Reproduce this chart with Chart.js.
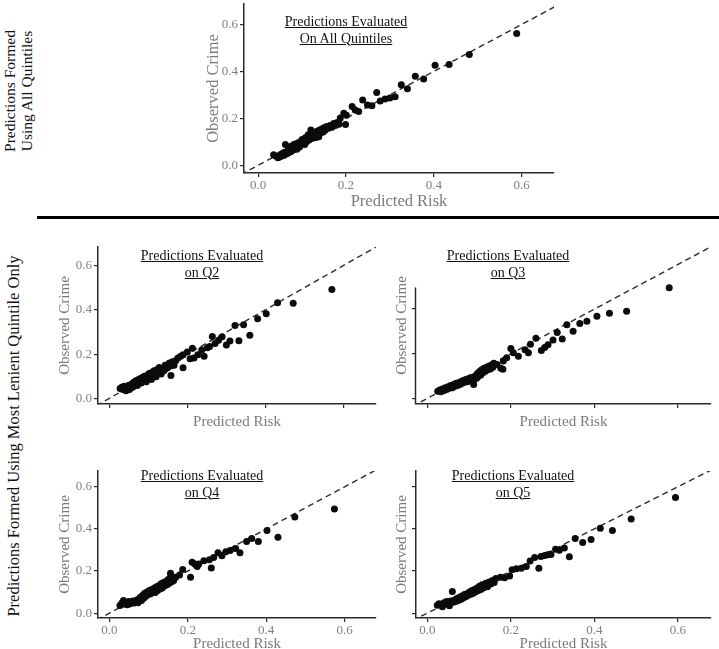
<!DOCTYPE html>
<html>
<head>
<meta charset="utf-8">
<script src="https://cdn.jsdelivr.net/npm/chart.js@4.4.1/dist/chart.umd.min.js"></script>
<style>
  html, body { margin: 0; padding: 0; background: #fff; overflow: hidden; width: 719px; height: 649px; }
  body { position: relative; font-family: "Liberation Serif", serif; }
  canvas { position: absolute; }
  .ptitle { position: absolute; transform: translateX(-50%); text-align: center; font-size: 14px; line-height: 16.5px; color: #111; text-decoration: underline; white-space: nowrap; }
  .side { position: absolute; transform: translate(-50%, -50%) rotate(-90deg); text-align: center; color: #111; white-space: nowrap; }
  .rule { position: absolute; left: 37px; right: 0; top: 216px; height: 2.5px; background: #000; }
</style>
</head>
<body>
<div class="side" style="left:18px;top:91px;font-size:15.5px;line-height:17px">Predictions Formed<br>Using All Quintiles</div>
<div class="side" style="left:13px;top:436px;font-size:16.5px;line-height:17px">Predictions Formed Using Most Lenient Quintile Only</div>
<div class="rule"></div>

<script>
// predicted risk vs observed crime, one array of [x, y] per panel
const allQuintiles = [
  [0.035,0.045],[0.040,0.040],[0.045,0.032],[0.048,0.035],[0.050,0.045],[0.052,0.038],[0.055,0.050],[0.058,0.042],
  [0.060,0.055],[0.062,0.088],[0.064,0.048],[0.066,0.060],[0.068,0.052],[0.070,0.075],[0.072,0.062],[0.074,0.058],
  [0.076,0.082],[0.078,0.070],[0.080,0.065],[0.082,0.090],[0.084,0.075],[0.086,0.080],[0.088,0.068],[0.090,0.095],
  [0.092,0.085],[0.094,0.078],[0.096,0.100],[0.098,0.090],[0.100,0.110],[0.102,0.095],[0.104,0.105],[0.106,0.088],
  [0.108,0.118],[0.110,0.100],[0.112,0.112],[0.114,0.130],[0.116,0.108],[0.118,0.120],[0.120,0.150],[0.122,0.128],
  [0.124,0.115],[0.126,0.140],[0.128,0.125],[0.130,0.135],[0.132,0.118],[0.134,0.145],[0.136,0.130],[0.138,0.122],
  [0.140,0.150],[0.142,0.138],[0.145,0.155],[0.148,0.142],[0.150,0.160],[0.153,0.150],[0.156,0.165],[0.160,0.158],
  [0.164,0.170],[0.168,0.162],[0.172,0.178],[0.176,0.170],[0.180,0.182],[0.184,0.175],
  [0.183,0.180],[0.187,0.201],[0.195,0.222],[0.199,0.174],[0.201,0.213],[0.214,0.250],[0.221,0.236],[0.229,0.229],
  [0.238,0.278],[0.249,0.257],[0.259,0.254],[0.270,0.310],[0.278,0.274],[0.289,0.282],[0.300,0.287],[0.312,0.292],
  [0.326,0.343],[0.340,0.326],[0.358,0.379],[0.377,0.368],[0.403,0.426],[0.435,0.430],[0.481,0.472],[0.589,0.562]
];

const evalQ2 = [
  [0.028,0.045],[0.032,0.050],[0.035,0.040],[0.038,0.055],[0.040,0.048],[0.043,0.035],[0.046,0.052],[0.048,0.045],
  [0.050,0.060],[0.052,0.040],[0.055,0.055],[0.058,0.065],[0.060,0.050],[0.062,0.072],[0.065,0.060],[0.068,0.080],
  [0.070,0.068],[0.072,0.058],[0.075,0.085],[0.078,0.075],[0.080,0.090],[0.082,0.070],[0.085,0.095],[0.088,0.082],
  [0.090,0.100],[0.092,0.088],[0.095,0.075],[0.098,0.105],[0.100,0.092],[0.102,0.112],[0.105,0.098],[0.108,0.085],
  [0.110,0.118],[0.112,0.105],[0.115,0.125],[0.118,0.110],[0.120,0.098],[0.122,0.130],[0.125,0.115],[0.128,0.140],
  [0.130,0.122],[0.133,0.110],[0.136,0.135],[0.140,0.125],[0.143,0.150],[0.146,0.135],[0.150,0.140],[0.154,0.160],
  [0.158,0.148],[0.162,0.165],[0.166,0.150],[0.170,0.170],
  [0.158,0.104],[0.176,0.182],[0.183,0.190],[0.189,0.197],[0.189,0.138],[0.200,0.209],[0.207,0.179],[0.213,0.226],
  [0.217,0.182],[0.227,0.197],[0.237,0.219],[0.243,0.190],[0.251,0.229],[0.257,0.234],[0.264,0.279],[0.271,0.248],
  [0.280,0.263],[0.289,0.278],[0.300,0.241],[0.309,0.259],[0.322,0.329],[0.332,0.260],[0.344,0.332],[0.360,0.285],
  [0.380,0.360],[0.402,0.382],[0.431,0.432],[0.471,0.429],[0.570,0.491]
];

const evalQ3 = [
  [0.025,0.032],[0.030,0.038],[0.033,0.030],[0.036,0.042],[0.040,0.035],[0.043,0.048],[0.046,0.040],[0.050,0.052],
  [0.053,0.045],[0.056,0.058],[0.060,0.048],[0.063,0.062],[0.066,0.055],[0.069,0.068],[0.072,0.058],[0.075,0.070],
  [0.078,0.062],[0.080,0.075],[0.083,0.068],[0.086,0.080],[0.089,0.072],[0.092,0.085],[0.095,0.075],[0.098,0.088],
  [0.100,0.078],[0.103,0.092],[0.106,0.082],[0.109,0.095],[0.112,0.085],[0.115,0.100],[0.118,0.090],[0.120,0.112],
  [0.122,0.098],[0.125,0.120],[0.128,0.105],[0.130,0.128],[0.133,0.115],[0.136,0.135],[0.139,0.122],[0.142,0.140],
  [0.145,0.128],[0.148,0.145],[0.151,0.132],[0.154,0.150],[0.157,0.140],[0.160,0.155],
  [0.111,0.062],[0.159,0.158],[0.167,0.152],[0.176,0.135],[0.181,0.131],[0.182,0.167],[0.190,0.182],[0.200,0.223],
  [0.206,0.204],[0.218,0.189],[0.234,0.218],[0.242,0.204],[0.247,0.243],[0.260,0.269],[0.273,0.214],[0.281,0.228],
  [0.289,0.240],[0.301,0.262],[0.311,0.295],[0.323,0.266],[0.334,0.330],[0.349,0.301],[0.365,0.336],[0.382,0.345],
  [0.406,0.368],[0.436,0.381],[0.477,0.390],[0.579,0.495]
];

const evalQ4 = [
  [0.027,0.036],[0.032,0.048],[0.036,0.060],[0.040,0.042],[0.043,0.052],[0.046,0.040],[0.050,0.055],[0.053,0.045],
  [0.056,0.050],[0.060,0.058],[0.063,0.048],[0.066,0.055],[0.070,0.062],[0.073,0.050],[0.076,0.068],[0.079,0.075],
  [0.082,0.060],[0.085,0.085],[0.088,0.072],[0.090,0.095],[0.093,0.080],[0.096,0.100],[0.099,0.088],[0.102,0.108],
  [0.105,0.092],[0.108,0.112],[0.111,0.100],[0.114,0.118],[0.117,0.098],[0.120,0.125],[0.123,0.108],[0.126,0.130],
  [0.129,0.115],[0.132,0.140],[0.135,0.120],[0.138,0.145],[0.141,0.130],[0.144,0.150],[0.147,0.135],[0.150,0.160],
  [0.153,0.142],[0.157,0.180],[0.160,0.150],[0.164,0.155],
  [0.156,0.189],[0.169,0.171],[0.179,0.181],[0.187,0.207],[0.207,0.171],[0.211,0.242],[0.218,0.234],[0.224,0.222],
  [0.228,0.234],[0.241,0.249],[0.255,0.253],[0.260,0.215],[0.266,0.264],[0.277,0.287],[0.287,0.272],[0.297,0.292],
  [0.308,0.298],[0.322,0.307],[0.333,0.287],[0.350,0.340],[0.363,0.355],[0.380,0.340],[0.402,0.393],[0.430,0.360],
  [0.473,0.457],[0.574,0.494]
];

const evalQ5 = [
  [0.024,0.037],[0.028,0.045],[0.032,0.040],[0.036,0.030],[0.040,0.050],[0.043,0.042],[0.046,0.055],[0.050,0.048],
  [0.053,0.035],[0.056,0.058],[0.060,0.103],[0.062,0.052],[0.065,0.062],[0.068,0.055],[0.071,0.070],[0.074,0.060],
  [0.077,0.075],[0.080,0.065],[0.083,0.082],[0.086,0.072],[0.089,0.088],[0.092,0.078],[0.095,0.092],[0.098,0.085],
  [0.101,0.100],[0.104,0.090],[0.107,0.108],[0.110,0.095],[0.113,0.112],[0.116,0.102],[0.119,0.120],[0.122,0.108],
  [0.125,0.128],[0.128,0.112],[0.131,0.135],[0.134,0.120],[0.137,0.130],[0.140,0.142],[0.144,0.125],[0.148,0.148],
  [0.152,0.138],[0.156,0.155],[0.160,0.145],
  [0.164,0.165],[0.175,0.171],[0.185,0.168],[0.197,0.176],[0.203,0.206],[0.213,0.211],[0.225,0.213],[0.237,0.221],
  [0.246,0.248],[0.257,0.264],[0.267,0.213],[0.272,0.269],[0.281,0.274],[0.288,0.277],[0.296,0.279],[0.307,0.303],
  [0.316,0.299],[0.328,0.309],[0.340,0.268],[0.354,0.354],[0.372,0.336],[0.392,0.350],[0.414,0.403],[0.443,0.393],
  [0.488,0.447],[0.594,0.549]
];

const tickValues = [0, 0.2, 0.4, 0.6];
const diagonal = [-0.1, 0.8]; // y = x reference line
const xLabel = "Predicted Risk";
const yLabel = "Observed Crime";

const FONT = "'Liberation Serif', serif";
const axisColor = "#2a2a2a";
const labelGrey = "#808080";

// L/T/R/B = plot area in page pixels
const panels = [
  { title: ["Predictions Evaluated", "On All Quintiles"], data: allQuintiles, L: 244, T: 0, R: 556, B: 173,
    x: [-0.0324, 0.674], y: [-0.033, 0.6875], showX: true, showY: true, big: true,
    yPad: 3.4, xPad: 1.4, tx: 346, ty: 14 },
  { title: ["Predictions Evaluated", "on Q2"], data: evalQ2, L: 98, T: 243, R: 378, B: 404,
    x: [-0.0287, 0.683], y: [-0.025, 0.683], showX: false, showY: true,
    yPad: 2.4, xPad: 13.4, tx: 202, ty: 248 },
  { title: ["Predictions Evaluated", "on Q3"], data: evalQ3, L: 416, T: 243, R: 713, B: 404,
    x: [-0.027, 0.679], y: [-0.025, 0.678], showX: false, showY: false, yTop: 0.497,
    yPad: 20.9, xPad: 13.4, tx: 508, ty: 248 },
  { title: ["Predictions Evaluated", "on Q4"], data: evalQ4, L: 98, T: 467, R: 378, B: 618,
    x: [-0.029, 0.68], y: [-0.023, 0.675], showX: true, showY: true,
    yPad: 2.4, xPad: 5.1, tx: 202, ty: 468 },
  { title: ["Predictions Evaluated", "on Q5"], data: evalQ5, L: 416, T: 467, R: 713, B: 618,
    x: [-0.027, 0.679], y: [-0.023, 0.675], showX: true, showY: false,
    yPad: 20.9, xPad: 5.1, tx: 513, ty: 468 }
];

// draws the y axis line only up to a given value (Q3 panel)
const partialAxis = {
  id: "partialAxis",
  afterDraw(chart, args, opts) {
    if (opts.top == null) return;
    const { ctx, chartArea, scales } = chart;
    const yTop = scales.y.getPixelForValue(opts.top);
    ctx.save();
    ctx.strokeStyle = axisColor;
    ctx.lineWidth = 1.5;
    ctx.beginPath();
    ctx.moveTo(chartArea.left - 0.5, yTop);
    ctx.lineTo(chartArea.left - 0.5, chartArea.bottom);
    ctx.stroke();
    ctx.restore();
  }
};

const Y_W = 44, X_H = 40, PAD_R = 2;

panels.forEach((p) => {
  const canvas = document.createElement("canvas");
  const left = p.L - Y_W;
  const w = p.R - left + PAD_R;
  const h = p.B + X_H - p.T;
  canvas.width = w;
  canvas.height = h;
  canvas.style.left = left + "px";
  canvas.style.top = p.T + "px";
  canvas.style.width = w + "px";
  canvas.style.height = h + "px";
  document.body.appendChild(canvas);

  const t = document.createElement("div");
  t.className = "ptitle";
  t.style.left = p.tx + "px";
  t.style.top = p.ty + "px";
  t.innerHTML = p.title.join("<br>");
  document.body.appendChild(t);

  const titleSize = p.big ? 16.5 : 15;

  new Chart(canvas.getContext("2d"), {
    type: "scatter",
    data: {
      datasets: [
        {
          type: "line",
          data: diagonal.map((v) => ({ x: v, y: v })),
          borderColor: "#2b2b2b",
          borderWidth: 1.4,
          borderDash: [6, 4],
          pointRadius: 0,
          fill: false,
          tension: 0,
          order: 2,
        },
        {
          data: p.data.map(([x, y]) => ({ x, y })),
          backgroundColor: "#0b0b0b",
          borderColor: "#0b0b0b",
          borderWidth: 0,
          pointRadius: 3.5,
          order: 1,
        },
      ],
    },
    options: {
      responsive: false,
      animation: false,
      events: [],
      layout: { padding: { top: 0, right: PAD_R, bottom: 0, left: 0 } },
      scales: {
        x: {
          type: "linear",
          min: p.x[0],
          max: p.x[1],
          afterBuildTicks: (s) => { s.ticks = tickValues.map((v) => ({ value: v })); },
          afterFit: (s) => { s.height = X_H; s.paddingLeft = 0; s.paddingRight = 0; },
          grid: { drawOnChartArea: false, drawTicks: true, tickLength: 4, color: axisColor, lineWidth: 1.2 },
          border: { display: true, color: axisColor, width: 1.5 },
          ticks: { display: p.showX, color: labelGrey, padding: 1, font: { family: FONT, size: 13 },
                   callback: (v) => Number(v).toFixed(1) },
          title: { display: true, text: xLabel, color: "#7a7a7a", font: { family: FONT, size: titleSize },
                   padding: { top: 0, bottom: p.xPad } },
        },
        y: {
          type: "linear",
          min: p.y[0],
          max: p.y[1],
          afterBuildTicks: (s) => { s.ticks = tickValues.map((v) => ({ value: v })); },
          afterFit: (s) => { s.width = Y_W; s.paddingTop = 0; s.paddingBottom = 0; },
          grid: {
            drawOnChartArea: false, drawTicks: true, tickLength: 4, lineWidth: 1.2,
            color: (c) => (p.yTop != null && c.tick && c.tick.value > p.yTop ? "rgba(0,0,0,0)" : axisColor),
          },
          border: { display: p.yTop == null, color: axisColor, width: 1.5 },
          ticks: { display: p.showY, color: labelGrey, padding: 2, font: { family: FONT, size: 13 },
                   callback: (v) => Number(v).toFixed(1) },
          title: { display: true, text: yLabel, color: "#7a7a7a", font: { family: FONT, size: titleSize },
                   padding: { top: p.yPad, bottom: 0 } },
        },
      },
      plugins: {
        legend: { display: false },
        tooltip: { enabled: false },
        partialAxis: { top: p.yTop },
      },
    },
    plugins: [partialAxis],
  });
});
</script>
</body>
</html>
